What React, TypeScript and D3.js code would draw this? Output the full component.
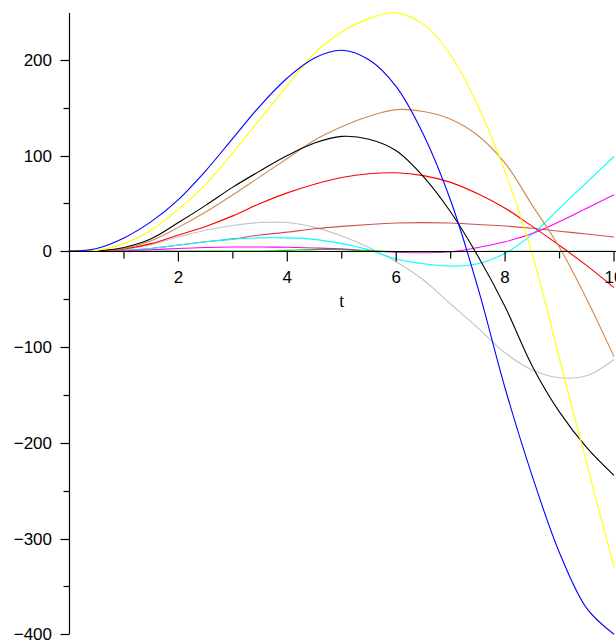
import React from "react";
import * as d3 from "d3";

const tValues = [0, 0.5, 1, 1.5, 2, 2.5, 3, 3.5, 4, 4.5, 5, 5.5, 6, 6.5, 7, 7.5, 8, 8.5, 9, 9.5, 10];

const blueSeries = [0, 3, 14, 31, 54, 84, 118, 152, 181, 202, 210, 200, 172, 122, 53, -38, -143, -235, -315, -373, -400];
const yellowSeries = [0, 1, 8, 22, 44, 70, 103, 138, 173, 207, 229, 243, 249, 237, 205, 152, 83, -3, -113, -222, -330];
const blackSeries = [0, 0.5, 4, 13, 30, 48, 67, 84, 100, 113, 120, 117, 105, 78, 41, -5, -58, -120, -168, -205, -234];
const brownSeries = [0, 0.3, 3, 11, 25, 41, 59, 78, 97, 116, 130, 141, 148, 146, 138, 121, 92, 48, 4, -50, -110];
const redSeries = [0, 0.2, 2.5, 8, 17, 26, 37, 50, 61, 70, 77, 81, 82, 79, 72, 60, 45, 26, 6, -15, -38];
const graySeries = [0, 0.1, 2, 7, 15, 22, 27, 30, 30, 25, 16, 4, -11, -30, -55, -80, -106, -124, -132, -130, -113];
const cyanSeries = [0, 0.1, 1, 3, 6.5, 10, 12.5, 14, 14, 12.5, 8, 1.5, -8, -13, -15.5, -13, -2, 18, 45, 72, 99];
const magentaSeries = [0, 0, 0.5, 1.5, 3, 4, 4.5, 4.5, 4.2, 3.5, 2.5, 0.5, -1, -1.5, -0.5, 4, 10, 18.5, 31, 45, 59];
const darkRedSeries = [0, 0.1, 1, 3, 6.5, 10, 13, 17, 20, 23.5, 26, 28, 29.5, 30, 29.5, 28, 26.5, 24, 21, 18, 15];
const greenSeries = [0, 0, 0.1, 0.1, 0.2, 0.2, 0.3, 0.3, 1, 1.8, 1.6, 0.5, -0.3, -0.4, -0.3, -0.2, 0, 0, 0, 0, 0];

const xMajorTicks = [2, 4, 6, 8, 10];
const xMinorTicks = [1, 3, 5, 7, 9];
const yMajorTicks = [-400, -300, -200, -100, 0, 100, 200];
const yMinorTicks = [-350, -250, -150, -50, 50, 150];

const seriesList = [
  { name: "gray", values: graySeries, color: "#c4c4c4" },
  { name: "darkred", values: darkRedSeries, color: "#cc5252" },
  { name: "cyan", values: cyanSeries, color: "#00ffff" },
  { name: "magenta", values: magentaSeries, color: "#ff00ff" },
  { name: "green", values: greenSeries, color: "#00c000" },
  { name: "red", values: redSeries, color: "#ff0000" },
  { name: "brown", values: brownSeries, color: "#d08a4c" },
  { name: "black", values: blackSeries, color: "#000000" },
  { name: "yellow", values: yellowSeries, color: "#ffff00" },
  { name: "blue", values: blueSeries, color: "#0000ff" },
];

const W = 616;
const H = 641;

export default function App() {
  const x = d3.scaleLinear().domain([0, 10]).range([69.5, 614]);
  const y = d3.scaleLinear().domain([-400, 0]).range([634.3, 251.3]);
  const line = d3
    .line<number>()
    .x((_, i) => x(tValues[i]))
    .y((d) => y(d))
    .curve(d3.curveCatmullRom.alpha(0.5));

  const x0 = x(0);
  const y0 = Math.round(y(0)) + 0.5;
  const yTop = y(249);
  const font = "'Liberation Sans', Arial, sans-serif";

  return (
    <svg
      width={W}
      height={H}
      style={{ position: "absolute", left: 0, top: 0, background: "#fff" }}
    >
      <rect x={0} y={0} width={W} height={H} fill="#fff" />
      <g fill="none" strokeWidth={1.1}>
        {seriesList.map((s) => (
          <path key={s.name} d={line(s.values) || ""} stroke={s.color} />
        ))}
      </g>
      <g stroke="#000" strokeWidth={1.2} fill="none">
        <line x1={x0} x2={x0} y1={yTop} y2={y(-400)} />
        <line x1={x0} x2={W} y1={y0} y2={y0} />
        {yMajorTicks.map((v) => (
          <line key={"ym" + v} x1={x0 - 9} x2={x0} y1={Math.round(y(v)) + 0.5} y2={Math.round(y(v)) + 0.5} />
        ))}
        {yMinorTicks.map((v) => (
          <line key={"yn" + v} x1={x0 - 6} x2={x0} y1={Math.round(y(v)) + 0.5} y2={Math.round(y(v)) + 0.5} />
        ))}
        {xMajorTicks.map((v) => (
          <line key={"xm" + v} x1={x(v)} x2={x(v)} y1={y0} y2={y0 + 10} />
        ))}
        {xMinorTicks.map((v) => (
          <line key={"xn" + v} x1={x(v)} x2={x(v)} y1={y0} y2={y0 + 7} />
        ))}
      </g>
      <g fontFamily={font} fontSize={17} fill="#000">
        {yMajorTicks.map((v) => (
          <text key={"yl" + v} x={52} y={y(v)} dy="0.36em" textAnchor="end">
            {v < 0 ? "\u2212" + Math.abs(v) : String(v)}
          </text>
        ))}
        {xMajorTicks.map((v) => (
          <text key={"xl" + v} x={x(v)} y={282.5} textAnchor="middle">
            {String(v)}
          </text>
        ))}
      </g>
      <text
        x={x(5)}
        y={307}
        textAnchor="middle"
        fontFamily="'Liberation Serif', 'Times New Roman', serif"
        fontSize={18}
      >
        t
      </text>
    </svg>
  );
}
